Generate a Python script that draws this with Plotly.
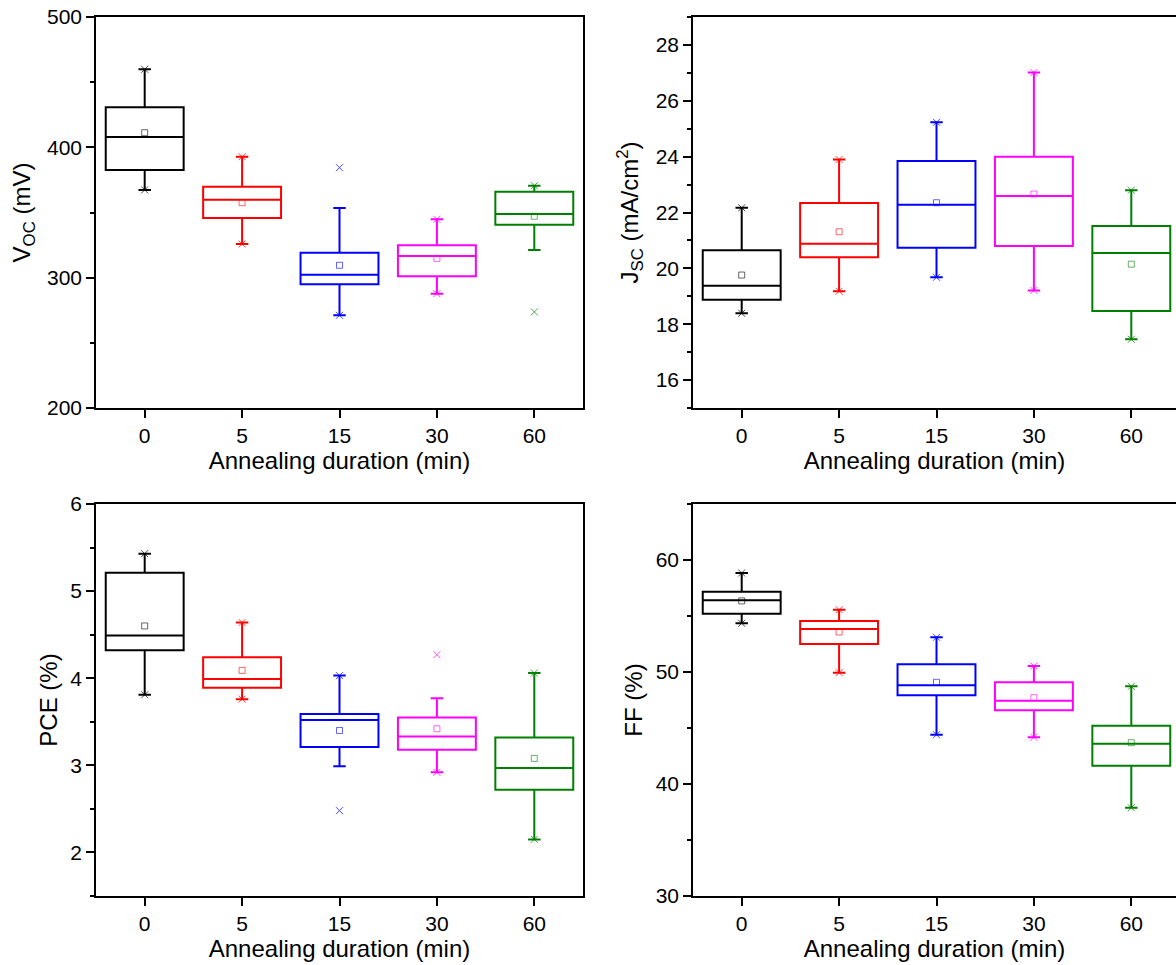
import plotly.graph_objects as go

# Annealing durations (categories) and colours per group
durations = ["0", "5", "15", "30", "60"]
colors = ["#000000", "#FF0000", "#0000FF", "#FF00FF", "#008000"]

# V_OC (mV)
voc_lo = [367.3, 325.8, 271.1, 287.7, 321.2]
voc_q1 = [382.6, 345.8, 294.9, 301.0, 340.6]
voc_med = [407.9, 359.8, 302.3, 316.6, 348.8]
voc_q3 = [430.7, 369.8, 319.2, 324.8, 366.0]
voc_hi = [459.9, 392.8, 353.5, 344.8, 370.6]
voc_mean = [411.2, 357.5, 309.5, 314.8, 347.1]
voc_p1 = [367.3, 325.8, 271.1, 287.7, 273.7]
voc_p99 = [459.9, 392.8, 384.4, 344.8, 370.6]

# J_SC (mA/cm2)
jsc_lo = [18.39, 19.18, 19.68, 19.21, 17.46]
jsc_q1 = [18.88, 20.40, 20.74, 20.80, 18.47]
jsc_med = [19.38, 20.88, 22.28, 22.59, 20.55]
jsc_q3 = [20.65, 22.34, 23.84, 24.00, 21.52]
jsc_hi = [22.17, 23.90, 25.23, 27.01, 22.80]
jsc_mean = [19.76, 21.31, 22.35, 22.66, 20.15]
jsc_p1 = [18.39, 19.18, 19.68, 19.21, 17.46]
jsc_p99 = [22.17, 23.90, 25.23, 27.01, 22.80]

# PCE (%)
pce_lo = [3.81, 3.76, 2.99, 2.92, 2.15]
pce_q1 = [4.32, 3.89, 3.21, 3.18, 2.72]
pce_med = [4.49, 3.99, 3.52, 3.33, 2.97]
pce_q3 = [5.21, 4.24, 3.59, 3.55, 3.32]
pce_hi = [5.43, 4.64, 4.03, 3.77, 4.06]
pce_mean = [4.60, 4.09, 3.40, 3.42, 3.08]
pce_p1 = [3.81, 3.76, 2.48, 2.92, 2.15]
pce_p99 = [5.43, 4.64, 4.03, 4.27, 4.06]

# FF (%)
ff_lo = [54.35, 49.94, 44.40, 44.17, 37.88]
ff_q1 = [55.21, 52.50, 47.92, 46.58, 41.63]
ff_med = [56.40, 53.84, 48.81, 47.44, 43.60]
ff_q3 = [57.17, 54.55, 50.69, 49.08, 45.21]
ff_hi = [58.84, 55.56, 53.10, 50.54, 48.72]
ff_mean = [56.35, 53.57, 49.08, 47.71, 43.69]
ff_p1 = [54.35, 49.94, 44.40, 44.17, 37.88]
ff_p99 = [58.84, 55.56, 53.10, 50.54, 48.72]

panels = [
    ("x", "y", voc_lo, voc_q1, voc_med, voc_q3, voc_hi, voc_mean, voc_p1, voc_p99),
    ("x2", "y2", jsc_lo, jsc_q1, jsc_med, jsc_q3, jsc_hi, jsc_mean, jsc_p1, jsc_p99),
    ("x3", "y3", pce_lo, pce_q1, pce_med, pce_q3, pce_hi, pce_mean, pce_p1, pce_p99),
    ("x4", "y4", ff_lo, ff_q1, ff_med, ff_q3, ff_hi, ff_mean, ff_p1, ff_p99),
]

fig = go.Figure()
for xa, ya, lo, q1, med, q3, hi, mean, p1, p99 in panels:
    for i, cat in enumerate(durations):
        c = colors[i]
        fig.add_trace(go.Box(
            x=[cat], q1=[q1[i]], median=[med[i]], q3=[q3[i]],
            lowerfence=[lo[i]], upperfence=[hi[i]],
            width=0.8, whiskerwidth=0.16, boxpoints=False,
            line=dict(color=c, width=2), fillcolor="rgba(0,0,0,0)",
            xaxis=xa, yaxis=ya, hoverinfo="skip",
        ))
        # 1% / 99% marks (crosses)
        fig.add_trace(go.Scatter(
            x=[cat, cat], y=[p1[i], p99[i]], mode="markers",
            marker=dict(symbol="x-thin", size=7, color=c, opacity=0.7,
                        line=dict(color=c, width=1)),
            xaxis=xa, yaxis=ya, hoverinfo="skip",
        ))
        # mean marker
        fig.add_trace(go.Scatter(
            x=[cat], y=[mean[i]], mode="markers",
            marker=dict(symbol="square-open", size=6, color=c, opacity=0.6,
                        line=dict(color=c, width=1)),
            xaxis=xa, yaxis=ya, hoverinfo="skip",
        ))

W, H = 1176, 965
FONT = "Arial, Liberation Sans, sans-serif"
tick_font = dict(family=FONT, size=21, color="black")
title_font = dict(family=FONT, size=24, color="black")

left_x = [96 / W, 583 / W]
right_x = [693 / W, 1.0]
top_y = [1 - 408 / H, 1 - 17 / H]
bot_y = [1 - 896 / H, 1 - 504 / H]


def xaxis(domain, anchor, xrange):
    return dict(
        domain=domain, anchor=anchor, type="category",
        categoryorder="array", categoryarray=durations, automargin=False,
        range=xrange, showline=True, linecolor="black", linewidth=1.5,
        mirror=True, ticks="outside", ticklen=8, tickwidth=1.5, tickcolor="black",
        tickfont=tick_font, showgrid=False, zeroline=False,
        title=dict(text="Annealing duration (min)", font=title_font, standoff=2),
    )


def yaxis(domain, anchor, yrange, dtick, tick0, minor_dtick, title, mirror,
          standoff):
    return dict(
        domain=domain, anchor=anchor, range=yrange, dtick=dtick, tick0=tick0,
        automargin=False,
        showline=True, linecolor="black", linewidth=1.5, mirror=mirror,
        ticks="outside", ticklen=8, tickwidth=1.5, tickcolor="black",
        minor=dict(dtick=minor_dtick, tick0=tick0, ticks="outside", ticklen=4,
                   tickwidth=1.5, tickcolor="black", showgrid=False),
        tickfont=tick_font, showgrid=False, zeroline=False,
        title=dict(text=title, font=title_font, standoff=standoff),
    )


right_range = [-0.5, -0.5 + (W - 693) / (487 / 5)]

fig.update_layout(
    width=W, height=H, margin=dict(l=0, r=0, t=0, b=0, autoexpand=False),
    paper_bgcolor="white", plot_bgcolor="white", showlegend=False,
    boxmode="overlay",
    xaxis=xaxis(left_x, "y", [-0.5, 4.5]),
    yaxis=yaxis(top_y, "x", [200, 500], 100, 200, 50,
                "V<sub>OC</sub> (mV)", True, 10),
    xaxis2=xaxis(right_x, "y2", right_range),
    yaxis2=yaxis(top_y, "x2", [15, 29], 2, 16, 1,
                 "J<sub>SC</sub> (mA/cm<sup>2</sup>)", False, 10),
    xaxis3=xaxis(left_x, "y3", [-0.5, 4.5]),
    yaxis3=yaxis(bot_y, "x3", [1.5, 6], 1, 2, 0.5, "PCE (%)", True, 6),
    xaxis4=xaxis(right_x, "y4", right_range),
    yaxis4=yaxis(bot_y, "x4", [30, 65], 10, 30, 5, "FF (%)", False, 6),
)

fig.write_html("out.html")
